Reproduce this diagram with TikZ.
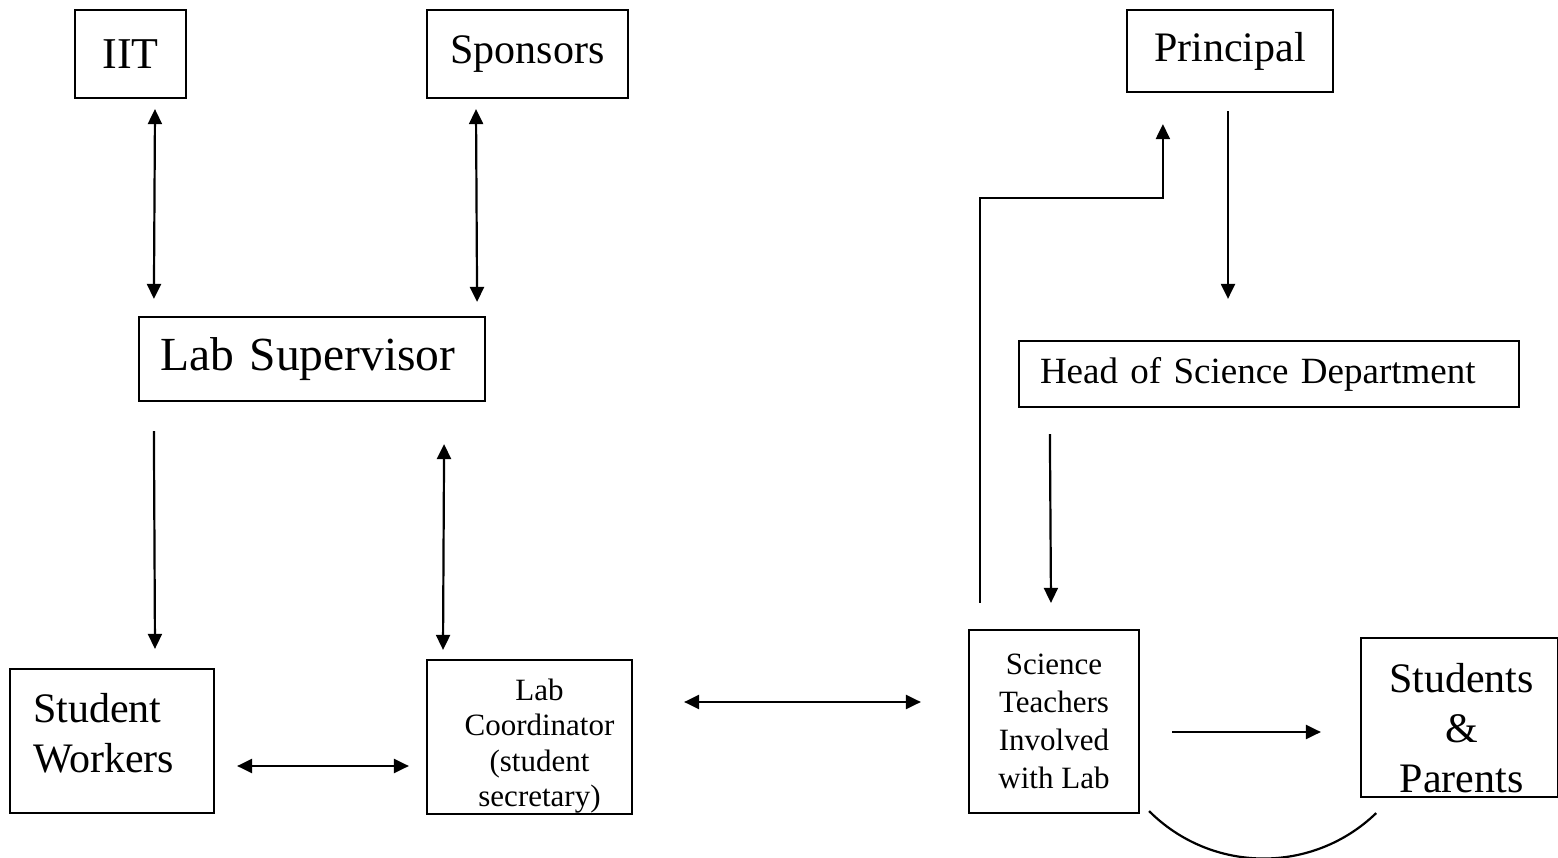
\documentclass[tikz,border=0pt]{standalone}
\usepackage{fontspec}
\setmainfont{Liberation Serif}
\usepackage{tikz}
\usetikzlibrary{arrows.meta}

\begin{document}
\begin{tikzpicture}[x=1pt, y=-1pt, line width=2.2pt,
		>={Triangle[length=15pt,width=14pt]},
		box/.style={draw, inner sep=0pt, align=center},
		bigtext/.style={font=\fontsize{44}{52}\selectfont},
		midtext/.style={font=\fontsize{42}{50}\selectfont},
		smalltext/.style={font=\fontsize{31}{35.5}\selectfont}]
				\useasboundingbox (0, 0) rectangle (1558, 858);
				
				%Top row
				\node[box, bigtext, minimum width=111pt, minimum height=88pt] (iit) at (130.5, 54) {IIT};
				\node[box, midtext, minimum width=201pt, minimum height=88pt] (spons) at (527.5, 54) {Sponsors};
				\node[box, midtext, minimum width=206pt, minimum height=82pt] (princ) at (1230, 51) {Principal};
				
				%Middle row
				\node[box, font=\fontsize{47.5}{56}\selectfont, align=left, inner xsep=21pt, text width=304pt, minimum height=84pt] (labsup) at (312, 359) {Lab Supervisor};
				\node[box, font=\fontsize{37}{44}\selectfont, align=left, inner xsep=21pt, text width=458pt, minimum height=66pt] (head) at (1269, 374) {Head of Science Department};
				
				%Bottom row
				\node[box, minimum width=204pt, minimum height=144pt,
					label={[midtext, align=left, text width=158pt, inner sep=0pt, yshift=8pt]center:Student\\Workers}] (stud) at (112, 741) {};
				\node[box, minimum width=205pt, minimum height=154pt,
					label={[smalltext, align=center, inner sep=0pt, xshift=10pt, yshift=-9pt]center:Lab\\Coordinator\\(student\\secretary)}] (coord) at (529.5, 737) {};
				\node[box, smalltext, font=\fontsize{31}{38}\selectfont, minimum width=170pt, minimum height=183pt] (sci) at (1054, 721.5) {Science\\Teachers\\Involved\\with Lab};
				\node[box, minimum width=197pt, minimum height=159pt,
					label={[midtext, align=center, inner sep=0pt, xshift=2pt, yshift=-11pt]center:Students\\\&\\Parents}] (spar) at (1459.5, 717.5) {};
				
				%Lines
				\draw[<->] ([xshift=24.5pt,yshift=-10pt]iit.south) -- ([xshift=16pt,yshift=17pt]labsup.north west);
				\draw[<->] ([xshift=-51.5pt,yshift=-10pt]spons.south) -- ([xshift=-9pt,yshift=14pt]labsup.north east);
				\draw[->] ([xshift=16pt,yshift=-29pt]labsup.south west) -- ([xshift=43pt,yshift=19pt]stud.north);
				\draw[<->] ([xshift=-42pt,yshift=-42pt]labsup.south east) -- ([xshift=-86.5pt,yshift=9pt]coord.north);
				\draw[<->] ([xshift=22pt,yshift=-25pt]stud.east) -- ([xshift=-17pt,yshift=-29pt]coord.west);
				\draw[<->] ([xshift=51pt,yshift=35pt]coord.east) -- ([xshift=-47pt,yshift=19.5pt]sci.west);
				\draw[->] ([xshift=32pt,yshift=-10.5pt]sci.east) -- ([xshift=-39pt,yshift=-14.5pt]spar.west);
				\draw[->] ([xshift=-2pt,yshift=-18pt]princ.south) -- ([xshift=-41pt,yshift=41pt]head.north);
				\draw[->] ([xshift=32pt,yshift=-26pt]head.south west) -- ([xshift=-3pt,yshift=26pt]sci.north);
				\draw[->] ([xshift=12pt,yshift=26pt]sci.north west) |- ([xshift=37pt,yshift=-105pt]princ.south west) -- ([xshift=37pt,yshift=-31pt]princ.south west);
				
				%Arc
				\draw ([xshift=9pt,yshift=3pt]sci.south east) arc[start angle=225, end angle=314, radius=162pt];
			\end{tikzpicture}
\end{document}
